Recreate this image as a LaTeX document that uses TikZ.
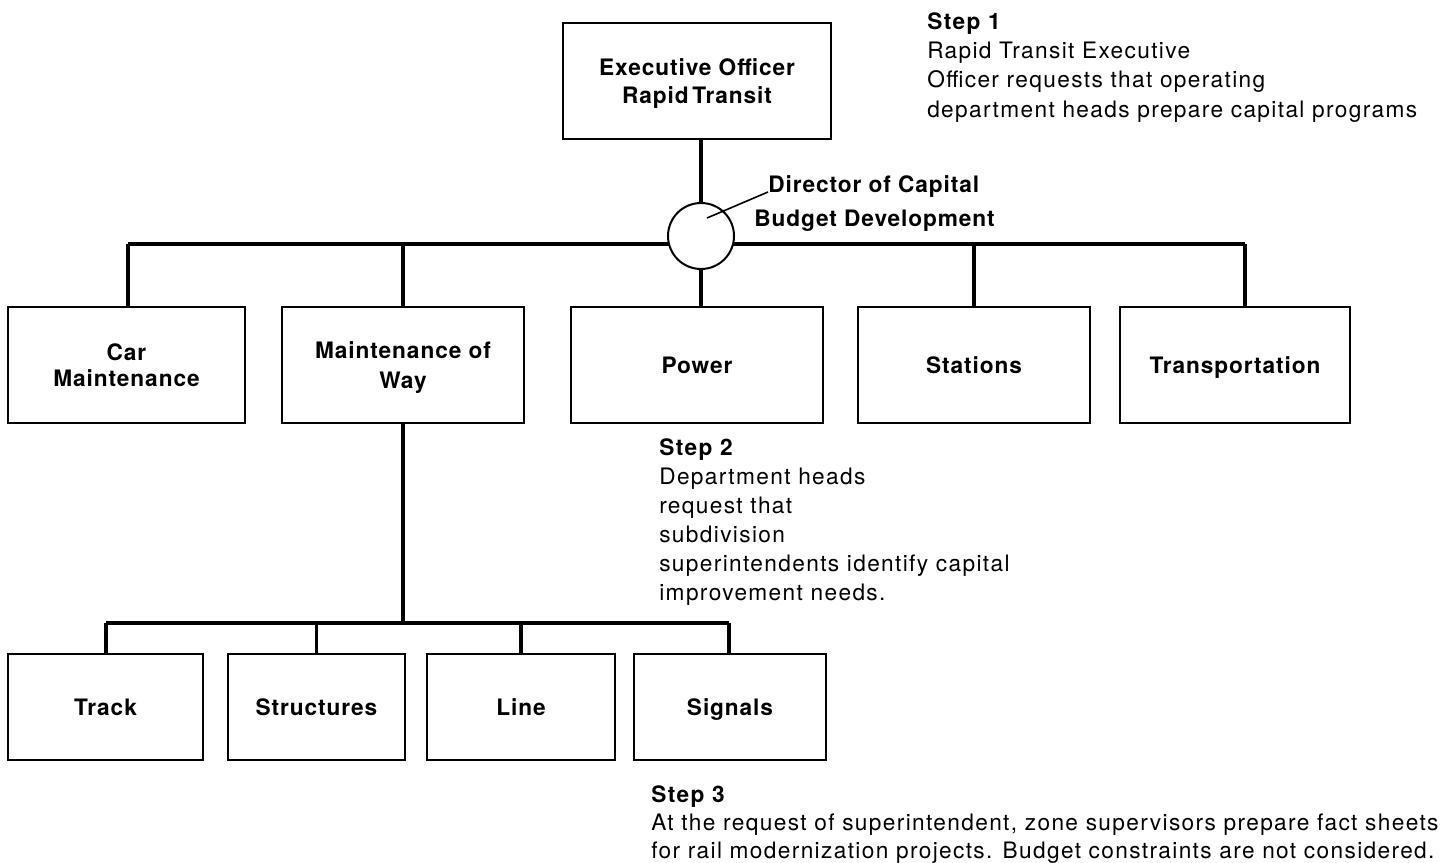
\documentclass[tikz,border=0pt]{standalone}
\usepackage{fontspec}
\setmainfont{TeX Gyre Heros}[LetterSpace=4]
\newfontfamily\notefont{TeX Gyre Heros}[LetterSpace=6]
\usepackage{tikz}

\tikzset{
  unit/.style={draw, line width=1.5pt, align=center, inner sep=0pt, text depth=0pt, font=\bfseries\fontsize{17}{19}\selectfont},
  link/.style={line width=2.6pt},
  note/.style={anchor=north west, align=left, inner sep=0pt},
}

\begin{document}
\begin{tikzpicture}[x=0.75pt,y=0.75pt,yscale=-1,xscale=1]
    \useasboundingbox (0,0) rectangle (1455,863);
    \coordinate (busL) at (128,244);
    \coordinate (busR) at (1245,244);
    \coordinate (subL) at (106,623);
    \coordinate (subR) at (729,623);

    \node [unit, minimum width=201pt, minimum height=87pt] (exec) at (697,81) {Executive Officer\\[2pt]Rapid\,Transit};
    \node [unit, minimum width=177.75pt, minimum height=87pt] (car) at (126.5,365) {Car\\Maintenance};
    \node [unit, minimum width=181.5pt, minimum height=87pt] (mow) at (403,365) {Maintenance of\\[3pt]Way};
    \node [unit, minimum width=189pt, minimum height=87pt] (power) at (697,365) {Power};
    \node [unit, minimum width=174pt, minimum height=87pt] (stations) at (974,365) {Stations};
    \node [unit, minimum width=172.5pt, minimum height=87pt] (transp) at (1235,365) {Transportation};
    \node [unit, minimum width=146.25pt, minimum height=79.5pt] (track) at (105.5,707) {Track};
    \node [unit, minimum width=132.75pt, minimum height=79.5pt] (struct) at (316.5,707) {Structures};
    \node [unit, minimum width=141pt, minimum height=79.5pt] (line) at (521,707) {Line};
    \node [unit, minimum width=144pt, minimum height=79.5pt] (signals) at (730,707) {Signals};

    \draw [link] (busL) -- (busR);
    \draw [link] (busL) -- (busL |- car.north);
    \draw [link] (mow.north |- busL) -- (mow.north);
    \draw [link] (stations.north |- busL) -- (stations.north);
    \draw [link] (busR) -- (busR |- transp.north);
    \draw [link] (mow.south) -- (mow.south |- subL);
    \draw [link] (subL) -- (subR);
    \draw [link] (subL) -- (subL |- track.north);
    \draw [link] (struct.north |- subL) -- (struct.north);
    \draw [link] (line.north |- subL) -- (line.north);
    \draw [link] (subR) -- (subR |- signals.north);

    \node [draw, circle, fill=white, line width=1.5pt, minimum size=49.5pt, inner sep=0pt] (dir) at (701,236) {};
    \draw [link] (dir.north |- exec.south) -- (dir.north);
    \draw [link] (dir.south) -- (dir.south |- power.north);

    \node [anchor=base west, inner sep=0pt, font=\bfseries\fontsize{17}{19}\selectfont] (dirA) at (768,192) {Director of Capital};
    \node [anchor=base west, inner sep=0pt, font=\bfseries\fontsize{17}{19}\selectfont] (dirB) at (754,226) {Budget Development};
    \draw [line width=1.2pt] ([shift={(6,-18)}]dir.center) -- (dirA.base west);

    \node [note, font=\notefont\fontsize{17}{22}\selectfont] (step1) at (927,12) {\textbf{Step 1}\\Rapid Transit Executive\\Officer requests that operating\\department heads prepare capital programs};
    \node [note, font=\notefont\fontsize{17}{21.75}\selectfont] (step2) at (659,438) {\textbf{Step 2}\\Department heads\\request that\\subdivision\\superintendents identify capital\\improvement needs.};
    \node [note, font=\notefont\fontsize{17}{21}\selectfont] (step3) at (651,785) {\textbf{Step 3}\\At the request of superintendent, zone supervisors prepare fact sheets\\for rail modernization projects. Budget constraints are not considered.};
\end{tikzpicture}
\end{document}
